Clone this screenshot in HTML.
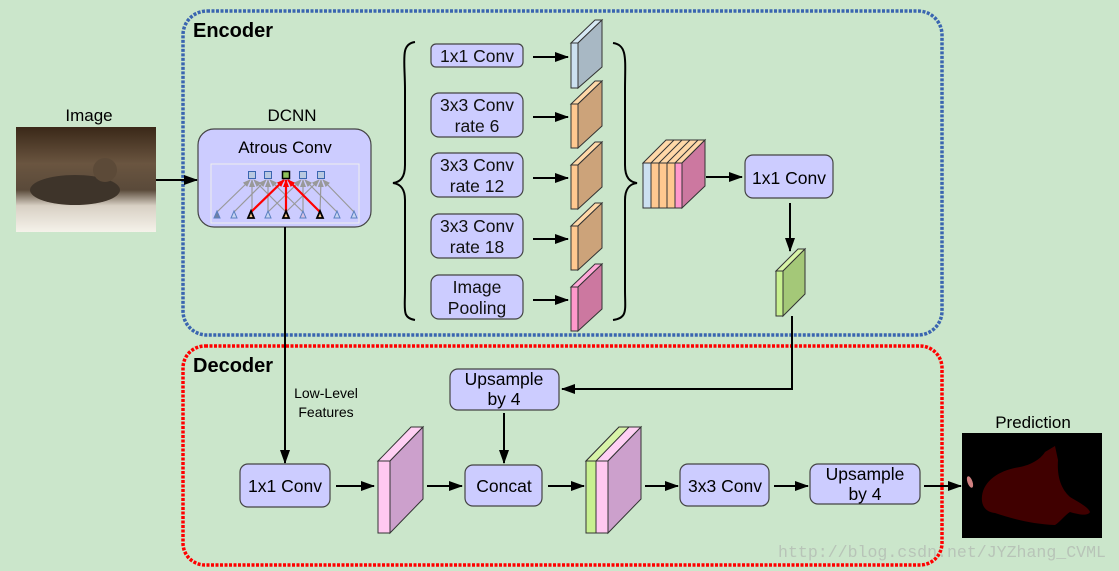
<!DOCTYPE html>
<html><head><meta charset="utf-8"><style>
html,body{margin:0;padding:0;background:#cbe6cb;}
svg{display:block;font-family:"Liberation Sans",sans-serif;}
</style></head><body>
<svg width="1119" height="571" viewBox="0 0 1119 571" xmlns="http://www.w3.org/2000/svg">
<defs>
<marker id="ah" markerWidth="14" markerHeight="10" refX="13" refY="5" orient="auto" markerUnits="userSpaceOnUse"><path d="M0,0 L14,5 L0,10 Z" fill="#000"/></marker>
<marker id="gh" markerWidth="8" markerHeight="6" refX="7" refY="3" orient="auto" markerUnits="userSpaceOnUse"><path d="M0,0 L8,3 L0,6 Z" fill="#999"/></marker>
<marker id="rh" markerWidth="8" markerHeight="6" refX="7" refY="3" orient="auto" markerUnits="userSpaceOnUse"><path d="M0,0 L8,3 L0,6 Z" fill="#f00"/></marker>
<linearGradient id="cat" x1="0" y1="0" x2="0" y2="1">
<stop offset="0" stop-color="#3a2818"/><stop offset="0.35" stop-color="#6a5540"/><stop offset="0.6" stop-color="#5a4a3a"/><stop offset="0.75" stop-color="#d8d0c4"/><stop offset="1" stop-color="#f5f2ea"/></linearGradient>
</defs>
<rect width="1119" height="571" fill="#cbe6cb"/>
<rect x="183" y="11" width="759" height="324" rx="24" fill="none" stroke="#3a65b0" stroke-width="3.5" stroke-dasharray="3 1.5"/>
<rect x="183" y="346" width="759" height="219" rx="22" fill="none" stroke="#f00" stroke-width="3.5" stroke-dasharray="3 1.5"/>
<text x="193" y="37" font-size="20" font-weight="bold">Encoder</text>
<text x="193" y="372" font-size="20" font-weight="bold">Decoder</text>
<text x="89" y="121" font-size="17" text-anchor="middle">Image</text>
<rect x="16" y="127" width="140" height="105" fill="url(#cat)"/>
<ellipse cx="75" cy="190" rx="45" ry="15" fill="#3e342a"/>
<ellipse cx="105" cy="170" rx="12" ry="12" fill="#5c4a38"/>
<line x1="156" y1="180" x2="197" y2="180" stroke="#000" stroke-width="2" marker-end="url(#ah)"/>
<text x="292" y="121" font-size="17" text-anchor="middle">DCNN</text>
<rect x="198" y="129" width="173" height="98" rx="16" fill="#ccccff" stroke="#444" stroke-width="1.2"/>
<text x="285" y="153" font-size="17" text-anchor="middle">Atrous Conv</text>
<rect x="211" y="164" width="148" height="59" fill="none" stroke="#eee" stroke-width="1"/>
<g stroke="#999" stroke-width="1.2">
<line x1="217" y1="212" x2="250" y2="180" marker-end="url(#gh)"/>
<line x1="252" y1="212" x2="252" y2="180" marker-end="url(#gh)"/>
<line x1="286" y1="212" x2="254" y2="180" marker-end="url(#gh)"/>
<line x1="234" y1="212" x2="266" y2="180" marker-end="url(#gh)"/>
<line x1="268" y1="212" x2="268" y2="180" marker-end="url(#gh)"/>
<line x1="303" y1="212" x2="270" y2="180" marker-end="url(#gh)"/>
<line x1="268" y1="212" x2="301" y2="180" marker-end="url(#gh)"/>
<line x1="303" y1="212" x2="303" y2="180" marker-end="url(#gh)"/>
<line x1="337" y1="212" x2="305" y2="180" marker-end="url(#gh)"/>
<line x1="286" y1="212" x2="319" y2="180" marker-end="url(#gh)"/>
<line x1="320" y1="212" x2="321" y2="180" marker-end="url(#gh)"/>
<line x1="354" y1="212" x2="323" y2="180" marker-end="url(#gh)"/>
</g>
<g stroke="#f00" stroke-width="2.2">
<line x1="251" y1="212" x2="284" y2="180" marker-end="url(#rh)"/>
<line x1="286" y1="212" x2="286" y2="180" marker-end="url(#rh)"/>
<line x1="320" y1="212" x2="288" y2="180" marker-end="url(#rh)"/>
</g>
<g fill="#b8c8e0" stroke="#3a65b0" stroke-width="1">
<rect x="248.5" y="171.5" width="7" height="7"/><rect x="264.5" y="171.5" width="7" height="7"/>
<rect x="299.5" y="171.5" width="7" height="7"/><rect x="317.5" y="171.5" width="7" height="7"/>
</g>
<rect x="282.5" y="171.5" width="7" height="7" fill="#8fbf5a" stroke="#000" stroke-width="1.5"/>
<g stroke="#5a80c0" stroke-width="1" fill="#c8d4f0">
<path d="M214,218 L217,211 L220,218Z" fill="#7080a0"/><path d="M231,218 L234,211 L237,218Z"/>
<path d="M265,218 L268,211 L271,218Z"/><path d="M300,218 L303,211 L306,218Z" fill="#d8c0e0"/>
<path d="M334,218 L337,211 L340,218Z"/><path d="M351,218 L354,211 L357,218Z"/>
</g>
<g stroke="#000" stroke-width="1.8" fill="#f8c890">
<path d="M248,218 L251,211 L254,218Z"/><path d="M283,218 L286,211 L289,218Z"/><path d="M317,218 L320,211 L323,218Z"/>
</g>
<line x1="285" y1="227" x2="285" y2="463" stroke="#000" stroke-width="2" marker-end="url(#ah)"/>
<text x="326" y="398" font-size="14" text-anchor="middle">Low-Level</text>
<text x="326" y="417" font-size="14" text-anchor="middle">Features</text>
<path d="M415,42 C400,44 405,60 405,90 L405,165 C405,178 400,182 393,183 C400,184 405,188 405,200 L405,290 C405,310 402,318 415,320" fill="none" stroke="#000" stroke-width="2"/>
<path d="M613,43 C628,45 625,60 625,90 L625,165 C625,178 630,182 637,183 C630,184 625,188 625,200 L625,290 C625,310 628,318 613,320" fill="none" stroke="#000" stroke-width="2"/>
<g fill="#ccccff" stroke="#444" stroke-width="1.2">
<rect x="431" y="44" width="92" height="23" rx="5"/>
<rect x="431" y="93" width="92" height="44" rx="8"/>
<rect x="431" y="153" width="92" height="44" rx="8"/>
<rect x="431" y="214" width="92" height="44" rx="8"/>
<rect x="431" y="275" width="92" height="44" rx="8"/>
</g>
<g font-size="17.5" text-anchor="middle" fill="#111">
<text x="477" y="62">1x1 Conv</text>
<text x="477" y="111">3x3 Conv</text><text x="477" y="132">rate 6</text>
<text x="477" y="171">3x3 Conv</text><text x="477" y="192">rate 12</text>
<text x="477" y="232">3x3 Conv</text><text x="477" y="253">rate 18</text>
<text x="477" y="293">Image</text><text x="477" y="314">Pooling</text>
</g>
<g stroke="#000" stroke-width="2" marker-end="url(#ah)">
<line x1="533" y1="57" x2="568" y2="57"/><line x1="533" y1="117" x2="568" y2="117"/>
<line x1="533" y1="178" x2="568" y2="178"/><line x1="533" y1="239" x2="568" y2="239"/>
<line x1="533" y1="300" x2="568" y2="300"/>
</g>
<g stroke="#333" stroke-width="1">
<path d="M571,43 L595,20 L602,20 L578,43Z" fill="#d6e8f4"/><path d="M578,43 L602,20 L602,67 L578,88Z" fill="#a8b8c4"/><rect x="571" y="43" width="7" height="45" fill="#cce0f0"/>
<path d="M571,104 L595,81 L602,81 L578,104Z" fill="#ffd8a8"/><path d="M578,104 L602,81 L602,126 L578,148Z" fill="#cca37a"/><rect x="571" y="104" width="7" height="44" fill="#ffc890"/>
<path d="M571,165 L595,142 L602,142 L578,165Z" fill="#ffd8a8"/><path d="M578,165 L602,142 L602,187 L578,209Z" fill="#cca37a"/><rect x="571" y="165" width="7" height="44" fill="#ffc890"/>
<path d="M571,226 L595,203 L602,203 L578,226Z" fill="#ffd8a8"/><path d="M578,226 L602,203 L602,248 L578,270Z" fill="#cca37a"/><rect x="571" y="226" width="7" height="44" fill="#ffc890"/>
<path d="M571,287 L595,264 L602,264 L578,287Z" fill="#ffa8d8"/><path d="M578,287 L602,264 L602,309 L578,331Z" fill="#cc78a0"/><rect x="571" y="287" width="7" height="44" fill="#ff98cc"/>
</g>
<g stroke="#333" stroke-width="1">
<path d="M643,163 L666,140 L705,140 L682,163Z" fill="#ffd8a8"/>
<path d="M682,163 L705,140 L705,186 L682,208Z" fill="#cc78a0"/>
<rect x="643" y="163" width="8" height="45" fill="#cce0f0"/>
<rect x="651" y="163" width="8" height="45" fill="#ffc890"/>
<rect x="659" y="163" width="8" height="45" fill="#ffc890"/>
<rect x="667" y="163" width="8" height="45" fill="#ffc890"/>
<rect x="675" y="163" width="7" height="45" fill="#ff98cc"/>
<line x1="651" y1="163" x2="674" y2="140"/><line x1="659" y1="163" x2="682" y2="140"/><line x1="667" y1="163" x2="690" y2="140"/><line x1="675" y1="163" x2="698" y2="140"/>
</g>
<line x1="706" y1="177" x2="742" y2="177" stroke="#000" stroke-width="2" marker-end="url(#ah)"/>
<rect x="745" y="155" width="88" height="43" rx="8" fill="#ccccff" stroke="#444" stroke-width="1.2"/>
<text x="789" y="184" font-size="17.5" text-anchor="middle">1x1 Conv</text>
<line x1="790" y1="203" x2="790" y2="251" stroke="#000" stroke-width="2" marker-end="url(#ah)"/>
<g stroke="#333" stroke-width="1">
<path d="M776,271 L798,249 L805,249 L783,271Z" fill="#d8f4a8"/><path d="M783,271 L805,249 L805,294 L783,316Z" fill="#a4c878"/><rect x="776" y="271" width="7" height="45" fill="#c8f090"/>
</g>
<polyline points="792,316 792,389 562,389" fill="none" stroke="#000" stroke-width="2" marker-end="url(#ah)"/>
<rect x="450" y="369" width="109" height="41" rx="8" fill="#ccccff" stroke="#444" stroke-width="1.2"/>
<text x="504" y="385" font-size="17.5" text-anchor="middle">Upsample</text>
<text x="504" y="405" font-size="17.5" text-anchor="middle">by 4</text>
<line x1="504" y1="413" x2="504" y2="463" stroke="#000" stroke-width="2" marker-end="url(#ah)"/>
<rect x="240" y="464" width="90" height="43" rx="8" fill="#ccccff" stroke="#444" stroke-width="1.2"/>
<text x="285" y="492" font-size="17.5" text-anchor="middle">1x1 Conv</text>
<line x1="336" y1="486" x2="374" y2="486" stroke="#000" stroke-width="2" marker-end="url(#ah)"/>
<g stroke="#333" stroke-width="1">
<path d="M378,461 L411,427 L423,427 L390,461Z" fill="#ffd0f4"/><path d="M390,461 L423,427 L423,499 L390,533Z" fill="#cca0cc"/><rect x="378" y="461" width="12" height="72" fill="#ffc8f0"/>
</g>
<line x1="427" y1="486" x2="462" y2="486" stroke="#000" stroke-width="2" marker-end="url(#ah)"/>
<rect x="465" y="465" width="77" height="41" rx="8" fill="#ccccff" stroke="#444" stroke-width="1.2"/>
<text x="504" y="492" font-size="17.5" text-anchor="middle">Concat</text>
<line x1="548" y1="486" x2="584" y2="486" stroke="#000" stroke-width="2" marker-end="url(#ah)"/>
<g stroke="#333" stroke-width="1">
<path d="M586,461 L619,427 L641,427 L608,461Z" fill="#ffd0f4"/>
<path d="M586,461 L619,427 L629,427 L596,461Z" fill="#d8f4a8"/>
<path d="M608,461 L641,427 L641,499 L608,533Z" fill="#cca0cc"/>
<rect x="586" y="461" width="10" height="72" fill="#c8f090"/><rect x="596" y="461" width="12" height="72" fill="#ffc8f0"/>
</g>
<line x1="645" y1="486" x2="678" y2="486" stroke="#000" stroke-width="2" marker-end="url(#ah)"/>
<rect x="680" y="464" width="89" height="42" rx="8" fill="#ccccff" stroke="#444" stroke-width="1.2"/>
<text x="725" y="492" font-size="17.5" text-anchor="middle">3x3 Conv</text>
<line x1="774" y1="486" x2="808" y2="486" stroke="#000" stroke-width="2" marker-end="url(#ah)"/>
<rect x="810" y="464" width="110" height="40" rx="8" fill="#ccccff" stroke="#444" stroke-width="1.2"/>
<text x="865" y="480" font-size="17.5" text-anchor="middle">Upsample</text>
<text x="865" y="500" font-size="17.5" text-anchor="middle">by 4</text>
<line x1="924" y1="486" x2="961" y2="486" stroke="#000" stroke-width="2" marker-end="url(#ah)"/>
<text x="1033" y="428" font-size="17" text-anchor="middle">Prediction</text>
<rect x="962" y="433" width="140" height="105" fill="#000"/>
<path d="M982,496 C984,480 1000,470 1020,467 C1030,465 1040,460 1045,452 L1055,446 L1058,460 C1057,475 1060,488 1070,497 C1080,503 1088,507 1090,512 C1088,516 1080,515 1070,512 C1065,515 1060,522 1055,525 C1030,524 1010,518 995,513 C985,512 981,505 982,496Z" fill="#400000"/>
<ellipse cx="970" cy="482" rx="2.5" ry="6" fill="#d08080" transform="rotate(-20 970 482)"/>
<text x="1106" y="557" font-size="17" font-family="Liberation Mono,monospace" fill="#b8c4b8" text-anchor="end" textLength="328" lengthAdjust="spacingAndGlyphs">http://blog.csdn.net/JYZhang_CVML</text>
</svg>
</body></html>
